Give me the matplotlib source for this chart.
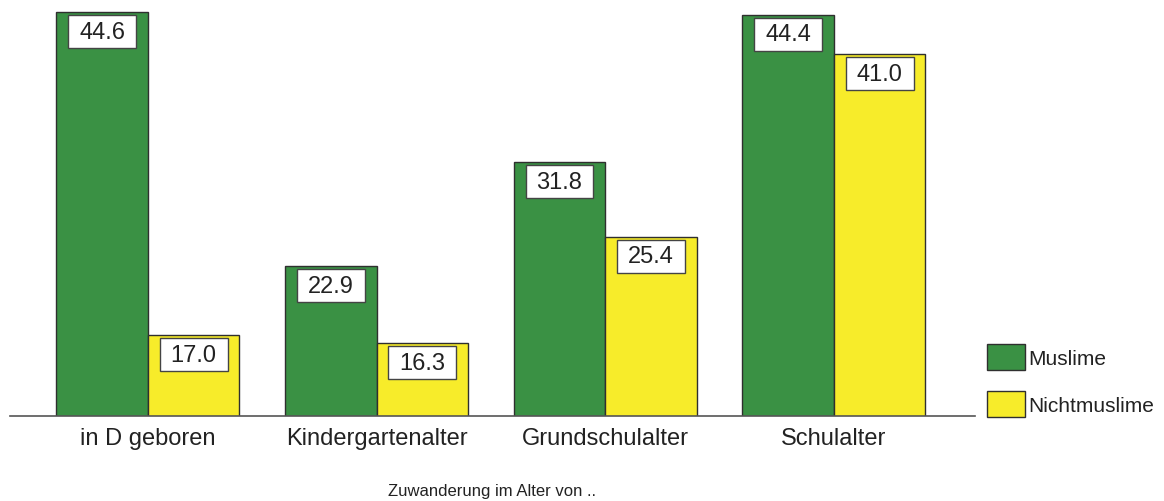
import matplotlib
matplotlib.use("Agg")
import matplotlib.pyplot as plt
from matplotlib.patches import Rectangle, Patch
import numpy as np

plt.rcParams['font.family'] = ['Liberation Sans', 'DejaVu Sans']

categories = ["in D geboren", "Kindergartenalter", "Grundschulalter", "Schulalter"]
muslime = [44.6, 22.9, 31.8, 44.4]
nichtmuslime = [17.0, 16.3, 25.4, 41.0]
series_names = ["Muslime", "Nichtmuslime"]
axis_title = "Zuwanderung im Alter von .."

green = "#3a9144"
yellow = "#f7ec2a"
edge = "#2f2f2f"

W, H = 1164, 502
fig = plt.figure(figsize=(W / 100, H / 100), dpi=100)
ax = fig.add_axes([10 / W, (H - 417) / H, 965 / W, 417 / H])

ymin = 10.1
px_per_unit = 11.7
ax.set_ylim(ymin, ymin + 417 / px_per_unit)
ax.set_xlim(-0.603, 3.617)

x = np.arange(len(categories))
bw = 0.4
ax.bar(x - bw / 2, muslime, width=bw, color=green, edgecolor=edge, linewidth=1.0, zorder=2)
ax.bar(x + bw / 2, nichtmuslime, width=bw, color=yellow, edgecolor=edge, linewidth=1.0, zorder=2)

# white value boxes hanging just below the top of each bar
box_w = 68 / 228.7
box_h = 33 / px_per_unit
gap = 3 / px_per_unit
for xs, vals in ((x - bw / 2, muslime), (x + bw / 2, nichtmuslime)):
    for xc, v in zip(xs, vals):
        top = v - gap
        ax.add_patch(Rectangle((xc - box_w / 2, top - box_h), box_w, box_h,
                               facecolor="white", edgecolor="#444444", linewidth=1.0, zorder=3))
        ax.text(xc, top - box_h / 2, f"{v:.1f}", ha="center", va="center",
                fontsize=17, color="#222222", zorder=4)

for s in ("top", "right", "left"):
    ax.spines[s].set_visible(False)
ax.spines["bottom"].set_color("#555555")
ax.spines["bottom"].set_linewidth(1.2)
ax.spines["bottom"].set_zorder(5)
ax.set_yticks([])
ax.set_xticks(x)
ax.set_xticklabels(categories, fontsize=17, color="#222222")
ax.tick_params(axis="x", length=0, pad=8)

fig.text(492.5 / W, 1 - 492 / H, axis_title, ha="center", va="center", fontsize=12, color="#222222")

handles = [Patch(facecolor=green, edgecolor=edge, linewidth=1.0),
           Patch(facecolor=yellow, edgecolor=edge, linewidth=1.0)]
fig.legend(handles, series_names, loc="upper left", bbox_to_anchor=(987 / W, 1 - 345 / H),
           bbox_transform=fig.transFigure, frameon=False, fontsize=15,
           handlelength=1.83, handleheight=1.53, handletextpad=0.15,
           labelspacing=1.02, borderpad=0, borderaxespad=0, labelcolor="#222222")

fig.savefig("out.png", dpi=100)
